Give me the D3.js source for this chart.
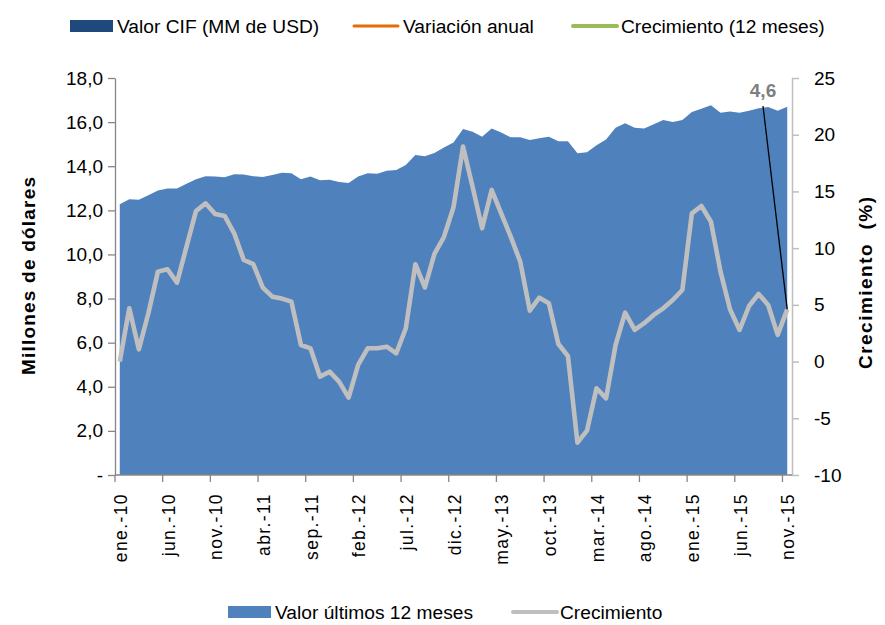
<!DOCTYPE html>
<html>
<head>
<meta charset="utf-8">
<script src="https://cdn.jsdelivr.net/npm/d3@7"></script>
<style>
  html, body { margin: 0; padding: 0; background: #ffffff; }
  svg { display: block; font-family: "Liberation Sans", Arial, sans-serif; }
</style>
</head>
<body>
<svg id="chart" width="885" height="625"></svg>
<script>
const categories = [
  "ene.-10","feb.-10","mar.-10","abr.-10","may.-10","jun.-10","jul.-10","ago.-10","sep.-10","oct.-10","nov.-10","dic.-10",
  "ene.-11","feb.-11","mar.-11","abr.-11","may.-11","jun.-11","jul.-11","ago.-11","sep.-11","oct.-11","nov.-11","dic.-11",
  "ene.-12","feb.-12","mar.-12","abr.-12","may.-12","jun.-12","jul.-12","ago.-12","sep.-12","oct.-12","nov.-12","dic.-12",
  "ene.-13","feb.-13","mar.-13","abr.-13","may.-13","jun.-13","jul.-13","ago.-13","sep.-13","oct.-13","nov.-13","dic.-13",
  "ene.-14","feb.-14","mar.-14","abr.-14","may.-14","jun.-14","jul.-14","ago.-14","sep.-14","oct.-14","nov.-14","dic.-14",
  "ene.-15","feb.-15","mar.-15","abr.-15","may.-15","jun.-15","jul.-15","ago.-15","sep.-15","oct.-15","nov.-15"
];

// Valor últimos 12 meses (millones de dólares)
const valor12m = [
  12.28,12.50,12.48,12.68,12.90,12.99,12.99,13.20,13.41,13.55,
  13.53,13.50,13.64,13.62,13.55,13.51,13.60,13.70,13.68,13.41,
  13.53,13.36,13.39,13.29,13.24,13.53,13.68,13.66,13.79,13.83,
  14.06,14.51,14.45,14.60,14.85,15.07,15.69,15.56,15.34,15.71,
  15.53,15.31,15.31,15.19,15.27,15.34,15.13,15.13,14.59,14.63,
  14.95,15.21,15.75,15.95,15.75,15.71,15.90,16.10,16.00,16.10,
  16.46,16.61,16.77,16.43,16.48,16.42,16.52,16.63,16.68,16.52,16.70
];

// Crecimiento (%)
const crecimiento = [
  0.0,4.70,1.08,4.26,7.93,8.14,6.96,10.13,13.28,13.95,
  13.01,12.84,11.31,8.96,8.60,6.52,5.72,5.55,5.28,1.46,
  1.17,-1.33,-0.89,-1.77,-3.18,-0.30,1.17,1.17,1.31,0.73,
  2.94,8.58,6.55,9.49,11.0,13.60,18.95,15.42,11.75,15.13,
  13.07,11.01,8.81,4.49,5.63,5.14,1.55,0.49,-7.15,-6.09,
  -2.35,-3.24,1.46,4.31,2.79,3.38,4.11,4.70,5.43,6.31,
  13.07,13.72,12.33,7.93,4.61,2.79,4.90,5.96,4.99,2.35,4.6
];

const leftTicks = [0,2,4,6,8,10,12,14,16,18];
const rightTicks = [-10,-5,0,5,10,15,20,25];
const labelEvery = 5;
const annotationText = "4,6";

const topLegend = [
  {label: "Valor CIF (MM de USD)", type: "rect", color: "#1F497D"},
  {label: "Variación anual", type: "line", color: "#E46C0A"},
  {label: "Crecimiento (12 meses)", type: "line", color: "#9BBB59"}
];
const bottomLegend = [
  {label: "Valor últimos 12 meses", type: "rect", color: "#4F81BD"},
  {label: "Crecimiento", type: "line", color: "#BFBFBF"}
];

const svg = d3.select("#chart");
svg.append("rect").attr("width", 885).attr("height", 625).attr("fill", "#ffffff");

const pLeft = 115, pRight = 792, pTop = 78, pBottom = 475;

const x = d3.scaleBand().domain(categories).range([pLeft, pRight]).padding(0);
const bw = x.bandwidth();
const cx = c => x(c) + bw / 2;
const yL = d3.scaleLinear().domain([0, 18]).range([pBottom, pTop]);
const yR = d3.scaleLinear().domain([-10, 25]).range([pBottom, pTop]);

const rows = categories.map((c, i) => ({c, v: valor12m[i], g: crecimiento[i]}));

// Area
svg.append("path")
  .datum(rows)
  .attr("fill", "#4F81BD")
  .attr("d", d3.area().x(d => cx(d.c)).y0(yL(0)).y1(d => yL(d.v)));

// Growth line
svg.append("path")
  .datum(rows)
  .attr("fill", "none")
  .attr("stroke", "#BFBFBF")
  .attr("stroke-width", 4.6)
  .attr("stroke-linejoin", "round")
  .attr("d", d3.line().x(d => cx(d.c)).y(d => yR(d.g)));

// Left axis
const fmtL = v => v === 0 ? "-" : d3.format(".1f")(v).replace(".", ",");
const gL = svg.append("g")
  .attr("transform", `translate(${pLeft},0)`)
  .call(d3.axisLeft(yL).tickValues(leftTicks).tickFormat(fmtL).tickSize(7).tickSizeOuter(0).tickPadding(5));
gL.select(".domain").attr("stroke", "#868686").attr("stroke-width", 1.3);
gL.selectAll(".tick line").attr("stroke", "#868686").attr("stroke-width", 1.3);
gL.selectAll(".tick text").attr("font-size", 19).attr("fill", "#000").attr("font-family", "Liberation Sans, Arial, sans-serif");

// Right axis
const gR = svg.append("g")
  .attr("transform", `translate(${pRight},0)`)
  .call(d3.axisRight(yR).tickValues(rightTicks).tickFormat(v => String(v)).tickSize(7).tickSizeOuter(0).tickPadding(15));
gR.select(".domain").attr("stroke", "#BFBFBF").attr("stroke-width", 1.5);
gR.selectAll(".tick line").attr("stroke", "#BFBFBF").attr("stroke-width", 1.5);
gR.selectAll(".tick text").attr("font-size", 19).attr("fill", "#000").attr("font-family", "Liberation Sans, Arial, sans-serif");

// Bottom axis
const gB = svg.append("g");
gB.append("line").attr("x1", pLeft).attr("x2", pRight).attr("y1", pBottom).attr("y2", pBottom)
  .attr("stroke", "#868686").attr("stroke-width", 1.3);
const labelCats = categories.filter((c, i) => i % labelEvery === 0);
gB.selectAll("line.tk").data(labelCats).enter().append("line")
  .attr("class", "tk")
  .attr("x1", d => x(d)).attr("x2", d => x(d))
  .attr("y1", pBottom).attr("y2", pBottom + 7)
  .attr("stroke", "#868686").attr("stroke-width", 1.3);
gB.selectAll("text").data(labelCats).enter().append("text")
  .attr("transform", d => `translate(${cx(d) + 1},${pBottom + 18}) rotate(-90)`)
  .attr("text-anchor", "end")
  .attr("dy", "0.35em")
  .attr("font-size", 17.5)
  .attr("letter-spacing", 1.4)
  .attr("fill", "#000")
  .text(d => d);

// Axis titles
svg.append("text")
  .attr("transform", `translate(35,276) rotate(-90)`)
  .attr("text-anchor", "middle")
  .attr("font-size", 19)
  .attr("font-weight", "bold")
  .attr("fill", "#000")
  .attr("textLength", 198)
  .attr("lengthAdjust", "spacing")
  .text("Millones de dólares");
svg.append("text")
  .attr("transform", `translate(872,283) rotate(-90)`)
  .attr("text-anchor", "middle")
  .attr("font-size", 19)
  .attr("font-weight", "bold")
  .attr("fill", "#000")
  .attr("xml:space", "preserve")
  .style("white-space", "pre")
  .attr("textLength", 172)
  .attr("lengthAdjust", "spacing")
  .text("Crecimiento  (%)");

// Annotation
const last = rows[rows.length - 1];
svg.append("line")
  .attr("x1", 763).attr("y1", 106)
  .attr("x2", cx(last.c)).attr("y2", yR(last.g))
  .attr("stroke", "#000").attr("stroke-width", 1.3);
svg.append("text")
  .attr("x", 763).attr("y", 97)
  .attr("text-anchor", "middle")
  .attr("font-size", 19)
  .attr("font-weight", "bold")
  .attr("fill", "#7F7F7F")
  .text(annotationText);

// Legends
function drawLegend(items, positions, y) {
  items.forEach((it, i) => {
    const p = positions[i];
    if (it.type === "rect") {
      svg.append("rect").attr("x", p.sx).attr("y", y - 6).attr("width", 43).attr("height", 12).attr("fill", it.color);
    } else {
      svg.append("line").attr("x1", p.sx).attr("x2", p.sx + 44).attr("y1", y).attr("y2", y)
        .attr("stroke", it.color).attr("stroke-width", it.color === "#E46C0A" ? 3 : 4).attr("stroke-linecap", "round");
    }
    svg.append("text").attr("x", p.tx).attr("y", y).attr("dy", "0.35em")
      .attr("font-size", 19.2).attr("fill", "#000").text(it.label);
  });
}
drawLegend(topLegend, [{sx: 70, tx: 117}, {sx: 354, tx: 403}, {sx: 573, tx: 621}], 26);
drawLegend(bottomLegend, [{sx: 228, tx: 275}, {sx: 513, tx: 560}], 612);
</script>
</body>
</html>
